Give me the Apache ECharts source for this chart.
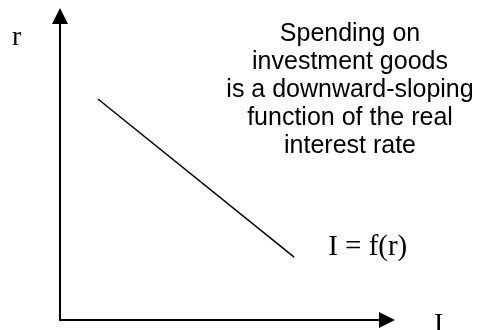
<!DOCTYPE html>
<html lang="en">

<head>
    <meta charset="UTF-8">
    <title>Investment function</title>
    <style>
        html,
        body {
            margin: 0;
            padding: 0;
            width: 100%;
            height: 100%;
            background: #fff;
        }
    </style>
</head>

<body>
    <div id="main" style="width: 477px;height:330px;"></div>
    <script src="https://cdn.jsdelivr.net/npm/echarts@6/dist/echarts.min.js"></script>
    <script type="text/javascript">
        // curve end points (I on x, r on y)
        var investI = [11.6, 71.6];
        var rateR = [72.7, 20.7];
        var curveLabel = 'I = f(r)';
        var axisNames = ['I', 'r'];
        var noteLines = [
            'Spending on',
            'investment goods',
            'is a downward-sloping',
            'function of the real',
            'interest rate'
        ];

        var serif = '"Liberation Serif", "Times New Roman", serif';
        var sans = '"Liberation Sans", Arial, sans-serif';

        var myChart = echarts.init(document.getElementById('main'));

        var points = investI.map(function (x, i) {
            return [x, rateR[i]];
        });

        var hiddenAxis = {
            type: 'value',
            min: 0,
            max: 100,
            axisLine: {
                show: true,
                symbol: ['none', 'triangle'],
                symbolSize: [16, 16],
                lineStyle: { color: '#000', width: 2 }
            },
            axisTick: { show: false },
            axisLabel: { show: false },
            splitLine: { show: false }
        };

        var option = {
            animation: false,
            grid: { left: 60, right: 90, top: 16, bottom: 10 },
            xAxis: hiddenAxis,
            yAxis: hiddenAxis,
            graphic: [{
                // x axis name, sits low and gets clipped by the bottom edge
                type: 'text',
                left: 434,
                top: 311,
                style: {
                    text: axisNames[0],
                    font: '28px ' + serif,
                    fill: '#000'
                }
            }, {
                type: 'text',
                left: 12,
                top: 24,
                style: {
                    text: axisNames[1],
                    font: '28px ' + serif,
                    fill: '#000'
                }
            }, {
                type: 'text',
                x: 350,
                y: 20,
                style: {
                    text: noteLines.join('\n'),
                    font: '25px ' + sans,
                    lineHeight: 28,
                    align: 'center',
                    fill: '#000'
                }
            }],
            series: [{
                type: 'line',
                silent: true,
                symbol: 'none',
                lineStyle: { color: '#000', width: 1.5 },
                endLabel: {
                    show: true,
                    distance: 34,
                    offset: [0, -10],
                    formatter: curveLabel,
                    fontFamily: serif,
                    fontSize: 29,
                    color: '#000'
                },
                data: points
            }]
        };
        myChart.setOption(option);
    </script>
</body>

</html>
